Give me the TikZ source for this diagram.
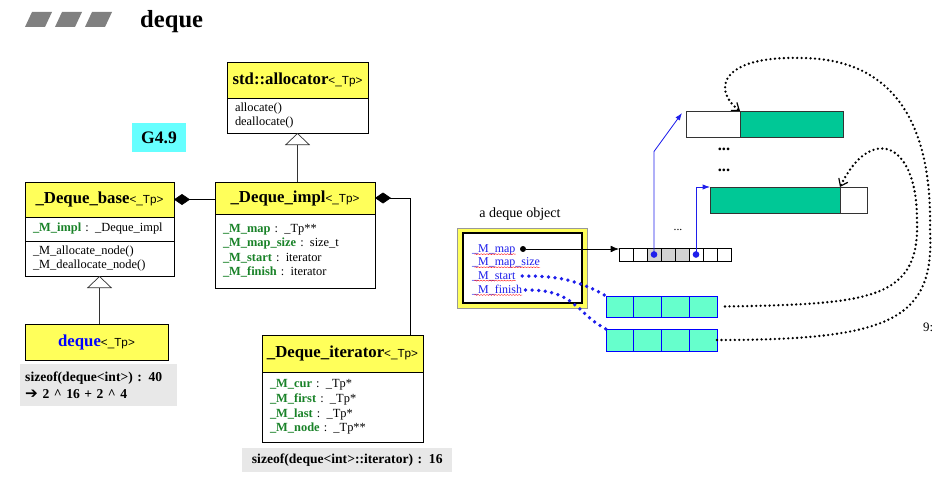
\documentclass[tikz,border=0pt]{standalone}
\usepackage{fontspec}
\setmainfont{Liberation Serif}
\setsansfont{Liberation Sans}
\newfontfamily\arrowfont{DejaVu Sans}
\usepackage{xcolor}
\usetikzlibrary{arrows.meta, positioning, calc, decorations.pathmorphing}

\definecolor{umlyellow}{RGB}{255,255,90}
\definecolor{fieldgreen}{RGB}{25,130,40}
\definecolor{verscyan}{RGB}{102,255,255}
\definecolor{bufgreen}{RGB}{0,200,150}
\definecolor{itercyan}{RGB}{102,255,204}
\definecolor{notegray}{RGB}{232,232,232}
\definecolor{ptrblue}{RGB}{30,30,235}
\definecolor{titlegray}{RGB}{128,128,128}

\newcommand{\tparg}{{\sffamily\fontsize{10}{12}\selectfont<\_Tp>}}
\newcommand{\fld}[1]{\textcolor{fieldgreen}{\textbf{#1}}}

\begin{document}
\begin{tikzpicture}[x=0.03cm, y=-0.03cm,
  hdr/.style={draw, line width=0.7pt, fill=umlyellow, anchor=north west, inner sep=0pt, outer sep=0pt, font=\fontsize{14.3}{16}\selectfont},
  body/.style={draw, line width=0.7pt, fill=white, inner xsep=0.24cm, inner ysep=0pt, outer sep=0pt, align=left, font=\fontsize{10.6}{12.4}\selectfont},
  note/.style={fill=notegray, anchor=north west, inner xsep=0.15cm, inner ysep=0pt, align=left, font=\fontsize{11.6}{14.5}\selectfont},
  inherit/.style={-{Triangle[open, length=0.36cm, width=0.75cm, fill=white]}, black!80, line width=0.6pt},
  compose/.style={{Diamond[length=0.48cm, width=0.33cm]}-, black, line width=0.6pt},
  objfield/.style={anchor=west, inner sep=0pt, text=ptrblue, font=\fontsize{10.2}{12}\selectfont},
  spell/.style={red, line width=0.3pt, decorate, decoration={snake, amplitude=0.4pt, segment length=2.5pt}},
  mapcell/.style={draw, line width=0.6pt, minimum width=0.42cm, minimum height=0.39cm, inner sep=0pt, outer sep=0pt},
  buf/.style={draw=black!80, line width=0.7pt, minimum height=0.78cm, inner sep=0pt, outer sep=0pt},
  itcell/.style={draw=blue, fill=itercyan, line width=0.8pt, minimum width=0.8325cm, inner sep=0pt, outer sep=0pt},
  ptrdot/.style={circle, fill=ptrblue, inner sep=0pt, minimum size=0.2cm},
  blueptr/.style={ptrblue, line width=0.7pt, -{Latex[length=0.22cm, width=0.16cm]}},
  bluedots/.style={ptrblue, line width=3.2pt, line cap=round, dash pattern=on 0pt off 5.6pt},
  blkdots/.style={black, line width=2.2pt, line cap=round, dash pattern=on 0pt off 3.8pt, -{Straight Barb[length=0.2cm, width=0.3cm, line width=1pt]}}
]
\useasboundingbox (0,0) rectangle (947,480);

\foreach \i in {0,1,2}
  \fill[titlegray] (25+30*\i,27) -- (32+30*\i,12) -- (52+30*\i,12) -- (45+30*\i,27) -- cycle;
\node[anchor=base west, inner sep=0pt, font=\bfseries\fontsize{21}{24}\selectfont] (title) at (140,28) {deque};

\node[hdr, minimum width=4.23cm, minimum height=1.08cm] (allochdr) at (227,62) {\textbf{std::allocator}\tparg};
\node[body, below=0pt of allochdr, text width=3.75cm, minimum height=1.05cm] (allocbody) {allocate()\\deallocate()};

\node[fill=verscyan, minimum width=1.62cm, minimum height=0.87cm, inner sep=0pt, font=\bfseries\fontsize{15}{18}\selectfont] (gver) at (159,137.5) {G4.9};

\node[hdr, minimum width=4.47cm, minimum height=1.05cm] (basehdr) at (25,182) {\textbf{\_Deque\_base}\tparg};
\node[body, below=0pt of basehdr, text width=3.99cm, minimum height=0.72cm] (baseattr) {\fld{\_M\_impl} : \_Deque\_impl};
\node[body, below=0pt of baseattr, text width=3.99cm, minimum height=1.05cm] (basemeth) {\_M\_allocate\_node()\\\_M\_deallocate\_node()};

\node[hdr, minimum width=4.8cm, minimum height=0.96cm] (implhdr) at (215,182) {\textbf{\_Deque\_impl}\tparg};
\node[body, below=0pt of implhdr, text width=4.32cm, minimum height=2.22cm] (implbody) {\fld{\_M\_map} : \_Tp**\\\fld{\_M\_map\_size} : size\_t\\\fld{\_M\_start} : iterator\\\fld{\_M\_finish} : iterator};

\node[hdr, minimum width=4.29cm, minimum height=1.08cm] (dequebox) at (25,324) {\textcolor{blue}{\textbf{deque}}\tparg};
\node[note, minimum width=4.71cm, minimum height=1.26cm, text width=4.41cm] (dequesize) at (20,364) {\textbf{sizeof(deque<int>) : 40}\\{\arrowfont\bfseries\fontsize{13}{14.5}\selectfont ➔} \textbf{2 \textasciicircum{} 16 + 2 \textasciicircum{} 4}};

\node[hdr, minimum width=4.83cm, minimum height=1.11cm] (iterhdr) at (262,335) {\textbf{\_Deque\_iterator}\tparg};
\node[body, below=0pt of iterhdr, text width=4.35cm, minimum height=2.1cm] (iterbody) {\fld{\_M\_cur} : \_Tp*\\\fld{\_M\_first} : \_Tp*\\\fld{\_M\_last} : \_Tp*\\\fld{\_M\_node} : \_Tp**};
\node[note, align=center, inner xsep=0.05cm, minimum width=6.3cm, minimum height=0.72cm, text width=6.2cm] (itersize) at (242,448) {\textbf{sizeof(deque<int>::iterator) : 16}};

\draw[inherit] (allocbody.south |- implhdr.north) -- (allocbody.south);
\draw[inherit] (basemeth.south |- dequebox.north) -- (basemeth.south);
\draw[compose] (basehdr.east) -- (basehdr.east -| implhdr.west);
\draw[compose] (implhdr.east) -| ([xshift=-0.39cm]iterhdr.north east);

\node[font=\fontsize{12}{14}\selectfont] (objlabel) at (520,214) {a deque object};
\node[draw=black!40, fill=umlyellow, minimum width=3.9cm, minimum height=2.4cm] (objframe) at (522,268) {};
\node[draw, line width=0.9pt, fill=white, minimum width=3.57cm, minimum height=2.1cm] (objinner) at (522.5,268) {};
\node[objfield] (fmap) at (472,250) {\_M\_map};
\node[objfield] (fsize) at (472,263) {\_M\_map\_size};
\node[objfield] (fstart) at (472,276) {\_M\_start};
\node[objfield] (ffinish) at (472,290) {\_M\_finish};
\foreach \f in {fmap,fsize,fstart,ffinish}
  \draw[spell] ([xshift=2pt, yshift=-1.3pt]\f.base west) -- ([yshift=-1.3pt]\f.base east);

\foreach \i/\c in {0/white,1/white,2/black!18,3/black!18,4/black!18,5/white,6/white,7/white}
  \node[mapcell, fill=\c] (m\i) at (626+14*\i,254.5) {};
\node[font=\fontsize{10}{12}\selectfont] (mapgap) at (678,230) {...};
\node[circle, fill=black, inner sep=0pt, minimum size=0.18cm] (mapdot) at (523,249) {};
\draw[-{Latex[length=0.25cm, width=0.2cm]}, line width=0.6pt] (mapdot) -- (mapdot -| m0.west);
\node[ptrdot] (ptrA) at (m2.center) {};
\node[ptrdot] (ptrB) at (m5.center) {};

\node[buf, fill=white, minimum width=1.62cm] (bufAfree) at (713,124) {};
\node[buf, fill=bufgreen, minimum width=3.09cm, right=0pt of bufAfree] (bufAused) {};
\node[font=\bfseries\fontsize{14}{16}\selectfont] (gapA) at (724,149) {...};
\node[font=\bfseries\fontsize{14}{16}\selectfont] (gapB) at (724,170) {...};
\node[buf, fill=bufgreen, minimum width=3.9cm] (bufBused) at (775,200) {};
\node[buf, fill=white, minimum width=0.81cm, right=0pt of bufBused] (bufBfree) {};

\draw[blueptr] (ptrA.center) -- ++(0,-103) -- ([xshift=-0.12cm, yshift=-0.06cm]bufAfree.north west);
\draw[blueptr] (ptrB.center) |- (bufBused.north west);

\foreach \i in {0,...,3} {
  \node[itcell, minimum height=0.63cm] (itS\i) at (619.9+27.75*\i,306.5) {};
  \node[itcell, minimum height=0.66cm] (itF\i) at (619.9+27.75*\i,340) {};
}

\draw[bluedots] ([xshift=0.2cm]fstart.east) to[out=0, in=150] (itS0.north west);
\draw[bluedots] ([xshift=0.1cm]ffinish.east) .. controls (575,289) and (578,315) .. (itF0.north west);

\draw[blkdots] (itF3.east) .. controls (890,340) and (935,320) .. (930,230) .. controls (932,140) and (905,58) .. (800,58) .. controls (720,56) and (712,90) .. (bufAused.north west);
\draw[blkdots] ([xshift=0.24cm]itS3.east) .. controls (870,304) and (920,300) .. (917,220) .. controls (917,140) and (870,125) .. (bufBused.north east);

\node[anchor=west, inner sep=0pt, font=\fontsize{11}{13}\selectfont] (pagenum) at (923,327) {9:};

\end{tikzpicture}
\end{document}
